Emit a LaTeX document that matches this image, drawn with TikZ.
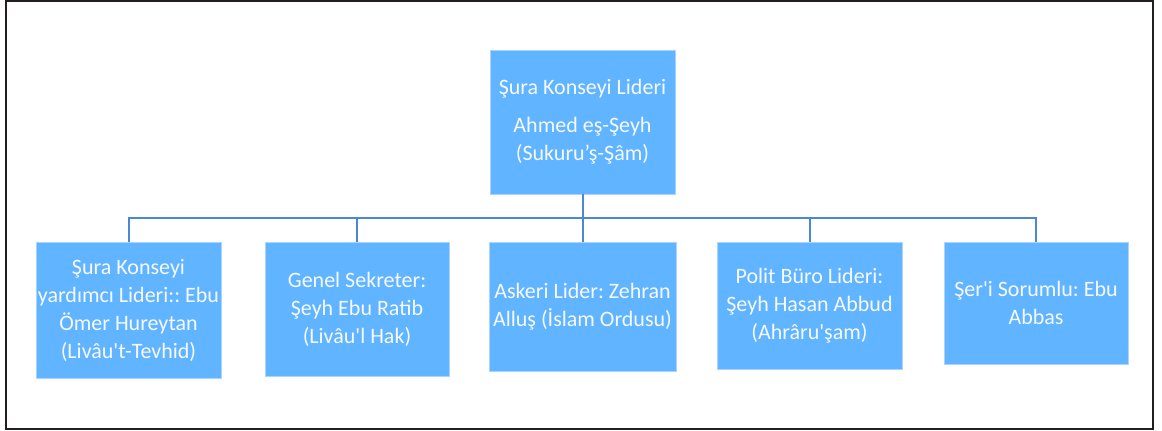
\documentclass[tikz,border=0pt]{standalone}
\usepackage{fontspec}
\setmainfont{Carlito}
\usepackage{textcomp}
\frenchspacing
\definecolor{boxfill}{RGB}{97,180,255}
\definecolor{boxedge}{RGB}{170,212,255}
\definecolor{linkblue}{RGB}{72,136,214}
\definecolor{frameclr}{RGB}{35,31,32}
\definecolor{txtclr}{RGB}{246,249,255}
\newcommand{\sq}{\textquotesingle}
\tikzset{
  orgbox/.style={draw=boxedge, line width=0.8pt, fill=boxfill, inner sep=0pt,
    text=txtclr, align=center,
    font=\fontsize{22}{28}\selectfont\frenchspacing},
  conn/.style={draw=linkblue, line width=2pt}
}
\begin{document}
\begin{tikzpicture}[x=1pt,y=-1pt]
\useasboundingbox (0,0) rectangle (1162,431);
\draw[frameclr, line width=2pt] (6,1) rectangle (1153,429);
\node[orgbox, minimum width=185pt, minimum height=144pt] (top) at (582.5,122)
  {Şura Konseyi Lideri\\[10pt] Ahmed eş-Şeyh\\ (Sukuru’ş-Şâm)};
\node[orgbox, minimum width=185pt, minimum height=136pt] (b1) at (128.5,310)
  {Şura Konseyi\\ yardımcı Lideri:: Ebu\\ Ömer Hureytan\\ (Livâu\sq t-Tevhid)};
\node[orgbox, minimum width=184pt, minimum height=134pt] (b2) at (357,309)
  {Genel Sekreter:\\ Şeyh Ebu Ratib\\ (Livâu\sq l Hak)};
\node[orgbox, minimum width=187pt, minimum height=129pt] (b3) at (582.5,306.5)
  {Askeri Lider: Zehran\\ Alluş (İslam Ordusu)};
\node[orgbox, minimum width=185pt, minimum height=127pt] (b4) at (809.5,305.5)
  {Polit Büro Lideri:\\ Şeyh Hasan Abbud\\ (Ahrâru\sq şam)};
\node[orgbox, minimum width=184pt, minimum height=122pt] (b5) at (1036,303)
  {Şer\sq i Sorumlu: Ebu\\ Abbas};
\coordinate (bus) at (582.5,218);
\draw[conn] (top.south) -- (b3.north);
\draw[conn] (b1.north) -- (b1.north |- bus) -- (b5.north |- bus) -- (b5.north);
\draw[conn] (b2.north) -- (b2.north |- bus);
\draw[conn] (b4.north) -- (b4.north |- bus);
\end{tikzpicture}
\end{document}
